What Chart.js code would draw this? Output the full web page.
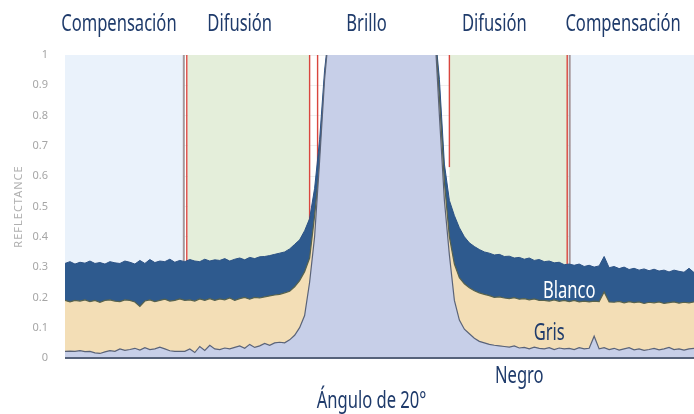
<!DOCTYPE html>
<html lang="es">
<head>
<meta charset="utf-8">
<title>Reflectancia</title>
<script src="https://cdn.jsdelivr.net/npm/chart.js@4.4.1/dist/chart.umd.min.js"></script>
<style>
	html, body { margin: 0; padding: 0; background: #fff; }
	#caja { width: 694px; height: 414px; position: relative; }
</style>
</head>
<body>
<div id="caja"><canvas id="grafica-reflectancia"></canvas></div>
<script>
// posiciones de medida (0 = borde izquierdo, 126 = borde derecho)
const posiciones = Array.from({ length: 127 }, (_, i) => i);

const negro = [
	0.022, 0.023, 0.022, 0.024, 0.021, 0.022, 0.017, 0.015, 0.02, 0.024,
	0.022, 0.03, 0.025, 0.028, 0.032, 0.026, 0.034, 0.028, 0.03, 0.036,
	0.03, 0.024, 0.022, 0.022, 0.022, 0.03, 0.018, 0.038, 0.025, 0.042,
	0.03, 0.028, 0.033, 0.03, 0.035, 0.04, 0.032, 0.045, 0.035, 0.04,
	0.048, 0.042, 0.05, 0.052, 0.05,
	0.06, 0.075, 0.1, 0.14, 0.25, 0.4, 0.65, 0.92,
	1.1, 1.1, 1.1, 1.1, 1.1, 1.1, 1.1, 1.1, 1.1, 1.1, 1.1,
	1.1, 1.1, 1.1, 1.1, 1.1, 1.1, 1.1, 1.1, 1.1, 1.1, 1.1,
	0.8, 0.52, 0.34, 0.19, 0.125, 0.095, 0.08, 0.065, 0.055, 0.05,
	0.045, 0.042, 0.04, 0.038, 0.036, 0.04, 0.033, 0.035, 0.03, 0.036,
	0.032, 0.03, 0.034, 0.028, 0.033, 0.03, 0.032, 0.028, 0.034, 0.03,
	0.032, 0.072, 0.03, 0.034, 0.028, 0.032, 0.026, 0.03, 0.034, 0.027,
	0.03, 0.025, 0.028, 0.032, 0.027, 0.03, 0.035, 0.028, 0.03, 0.026,
	0.03, 0.032,
];

const gris = [
	0.19, 0.185, 0.19, 0.188, 0.192, 0.186, 0.19, 0.184, 0.19, 0.192,
	0.188, 0.186, 0.192, 0.19, 0.185, 0.17, 0.188, 0.192, 0.186, 0.19,
	0.194, 0.188, 0.19, 0.195, 0.19, 0.192, 0.188, 0.195, 0.19, 0.196,
	0.19, 0.195, 0.192, 0.198, 0.19, 0.196, 0.2, 0.194, 0.2, 0.198,
	0.202, 0.205, 0.208, 0.21, 0.215,
	0.22, 0.235, 0.255, 0.285, 0.33, 0.47, 0.63, 0.88,
	1.1, 1.1, 1.1, 1.1, 1.1, 1.1, 1.1, 1.1, 1.1, 1.1, 1.1,
	1.1, 1.1, 1.1, 1.1, 1.1, 1.1, 1.1, 1.1, 1.1, 1.1, 1.1,
	0.86, 0.58, 0.4, 0.31, 0.265, 0.245, 0.232, 0.222, 0.215, 0.21,
	0.206, 0.2, 0.202, 0.198, 0.196, 0.199, 0.194, 0.196, 0.192, 0.195,
	0.19, 0.19, 0.188, 0.192, 0.187, 0.19, 0.186, 0.19, 0.185, 0.188,
	0.185, 0.188, 0.186, 0.218, 0.185, 0.184, 0.187, 0.182, 0.186, 0.183,
	0.185, 0.18, 0.184, 0.182, 0.185, 0.18, 0.183, 0.185, 0.181, 0.184,
	0.182, 0.185,
];

const blanco = [
	0.312, 0.318, 0.31, 0.316, 0.313, 0.32, 0.312, 0.315, 0.31, 0.318,
	0.314, 0.312, 0.32, 0.316, 0.31, 0.322, 0.312, 0.325, 0.315, 0.32,
	0.318, 0.326, 0.316, 0.322, 0.318, 0.325, 0.32, 0.318, 0.326, 0.32,
	0.324, 0.322, 0.328, 0.32, 0.326, 0.33, 0.324, 0.332, 0.328, 0.334,
	0.335, 0.338, 0.342, 0.346, 0.35,
	0.36, 0.375, 0.39, 0.42, 0.46, 0.56, 0.72, 0.95,
	1.1, 1.1, 1.1, 1.1, 1.1, 1.1, 1.1, 1.1, 1.1, 1.1, 1.1,
	1.1, 1.1, 1.1, 1.1, 1.1, 1.1, 1.1, 1.1, 1.1, 1.1, 1.1,
	0.92, 0.64, 0.52, 0.47, 0.43, 0.4, 0.38, 0.368, 0.358, 0.35,
	0.346, 0.34, 0.342, 0.335, 0.336, 0.33, 0.332, 0.326, 0.33, 0.322,
	0.325, 0.318, 0.32, 0.314, 0.316, 0.308, 0.31, 0.306, 0.31, 0.302,
	0.306, 0.3, 0.304, 0.335, 0.298, 0.302, 0.295, 0.3, 0.292, 0.296,
	0.29, 0.294, 0.288, 0.293, 0.287, 0.29, 0.284, 0.29, 0.286, 0.283,
	0.296, 0.282,
];

const ticksY = [0, 0.1, 0.2, 0.3, 0.4, 0.5, 0.6, 0.7, 0.8, 0.9, 1];
const etiquetasY = ['0', '0.1', '0.2', '0.3', '0.4', '0.5', '0.6', '0.7', '0.8', '0.9', '1'];

// zonas de fondo, en unidades de posición
const zonas = [
	{ desde: 0, hasta: 23.8, color: '#EAF2FB' },
	{ desde: 24.6, hasta: 49, color: '#E4EEDA' },
	{ desde: 77, hasta: 100.6, color: '#E4EEDA' },
	{ desde: 101.2, hasta: 126, color: '#EAF2FB' },
];

// divisiones verticales
const divisiones = [
	{ x: 23.8, hasta: 0, color: '#A4979A', ancho: 2 },
	{ x: 24.4, hasta: 0, color: '#D9463E', ancho: 1.4 },
	{ x: 49, hasta: 0, color: '#D9463E', ancho: 1.4 },
	{ x: 50.6, hasta: 0, color: '#D9463E', ancho: 1.4 },
	{ x: 77, hasta: 0.63, color: '#D9463E', ancho: 1.4 },
	{ x: 100.6, hasta: 0, color: '#D9463E', ancho: 1.4 },
	{ x: 101.1, hasta: 0, color: '#A4979A', ancho: 2 },
];

const rotulos = [
	{ texto: 'Compensación', x: 10.8, arriba: true, color: '#1F3B6B' },
	{ texto: 'Difusión', x: 35, arriba: true, color: '#1F3B6B' },
	{ texto: 'Brillo', x: 60.4, arriba: true, color: '#1F3B6B' },
	{ texto: 'Difusión', x: 86, arriba: true, color: '#1F3B6B' },
	{ texto: 'Compensación', x: 111.8, arriba: true, color: '#1F3B6B' },
	{ texto: 'Blanco', x: 101, y: 0.198, color: '#FFFFFF' },
	{ texto: 'Gris', x: 97, y: 0.06, color: '#1F3B6B' },
	{ texto: 'Negro', x: 91, abajo: 25, color: '#1F3B6B' },
	{ texto: 'Ángulo de 20°', x: 61.4, abajo: 50, color: '#1F3B6B' },
];

const fondoZonas = {
	id: 'fondoZonas',
	beforeDatasetsDraw(chart) {
		const { ctx, chartArea, scales } = chart;
		ctx.save();
		zonas.forEach((z) => {
			const x1 = scales.x.getPixelForValue(z.desde);
			const x2 = scales.x.getPixelForValue(z.hasta);
			ctx.fillStyle = z.color;
			ctx.fillRect(x1, chartArea.top, x2 - x1, chartArea.bottom - chartArea.top);
		});
		divisiones.forEach((d) => {
			const x = scales.x.getPixelForValue(d.x);
			ctx.strokeStyle = d.color;
			ctx.lineWidth = d.ancho;
			ctx.beginPath();
			ctx.moveTo(x, chartArea.top);
			ctx.lineTo(x, scales.y.getPixelForValue(d.hasta));
			ctx.stroke();
		});
		ctx.restore();
	},
	afterDatasetsDraw(chart) {
		const { ctx, chartArea } = chart;
		ctx.save();
		ctx.strokeStyle = '#56627A';
		ctx.lineWidth = 2;
		ctx.beginPath();
		ctx.moveTo(chartArea.left, chartArea.bottom);
		ctx.lineTo(chartArea.right, chartArea.bottom);
		ctx.stroke();
		ctx.restore();
	},
	afterDraw(chart) {
		const { ctx, chartArea, scales } = chart;
		ctx.save();
		// título del eje vertical
		ctx.font = '11px "Noto Sans"';
		ctx.fillStyle = '#B0B0B0';
		ctx.textAlign = 'center';
		ctx.textBaseline = 'middle';
		if ('letterSpacing' in ctx) ctx.letterSpacing = '1px';
		ctx.save();
		ctx.translate(19, (chartArea.top + chartArea.bottom) / 2);
		ctx.rotate(-Math.PI / 2);
		ctx.fillText('REFLECTANCE', 0, 0);
		ctx.restore();
		if ('letterSpacing' in ctx) ctx.letterSpacing = '0px';

		ctx.font = '24px "Noto Sans"';
		ctx.textBaseline = 'alphabetic';
		rotulos.forEach((r) => {
			const x = scales.x.getPixelForValue(r.x);
			let y;
			if (r.arriba) y = chartArea.top - 24;
			else if (r.abajo) y = chartArea.bottom + r.abajo;
			else y = scales.y.getPixelForValue(r.y);
			ctx.save();
			ctx.translate(x, y);
			ctx.scale(0.69, 1);
			ctx.fillStyle = r.color;
			ctx.fillText(r.texto, 0, 0);
			ctx.restore();
		});
		ctx.restore();
	},
};

const serie = (valores) => valores.map((v, i) => ({ x: posiciones[i], y: v }));

const ctx = document.querySelector('#grafica-reflectancia');
const chart = new Chart(ctx, {
	type: 'line',
	data: {
		datasets: [
			{
				label: 'Negro',
				data: serie(negro),
				borderColor: '#5A6378',
				backgroundColor: '#C7CFE8',
				borderWidth: 1.2,
				fill: 'origin',
			},
			{
				label: 'Gris',
				data: serie(gris),
				borderColor: '#56624E',
				backgroundColor: '#F3DEB6',
				borderWidth: 1.2,
				fill: 'origin',
			},
			{
				label: 'Blanco',
				data: serie(blanco),
				borderColor: '#2C5285',
				backgroundColor: '#2E5A8E',
				borderWidth: 1,
				fill: 'origin',
			},
		],
	},
	options: {
		responsive: true,
		maintainAspectRatio: false,
		animation: false,
		layout: { padding: { top: 55, bottom: 56, left: 0, right: 0 } },
		elements: { point: { radius: 0 }, line: { tension: 0 } },
		plugins: {
			legend: { display: false },
			tooltip: { enabled: false },
			filler: { drawTime: 'beforeDatasetDraw' },
		},
		scales: {
			x: {
				type: 'linear',
				min: 0,
				max: 126,
				display: false,
			},
			y: {
				min: 0,
				max: 1,
				afterFit(scale) {
					scale.width = 65;
				},
				afterBuildTicks(scale) {
					scale.ticks = ticksY.map((v) => ({ value: v }));
				},
				ticks: {
					color: '#A6A6A6',
					font: { family: 'Noto Sans', size: 11 },
					padding: 17,
					callback: (v, i) => etiquetasY[i],
				},
				grid: { color: '#EFEFEF', drawTicks: false },
				border: { display: false },
			},
		},
	},
	plugins: [fondoZonas],
});
</script>
</body>
</html>
